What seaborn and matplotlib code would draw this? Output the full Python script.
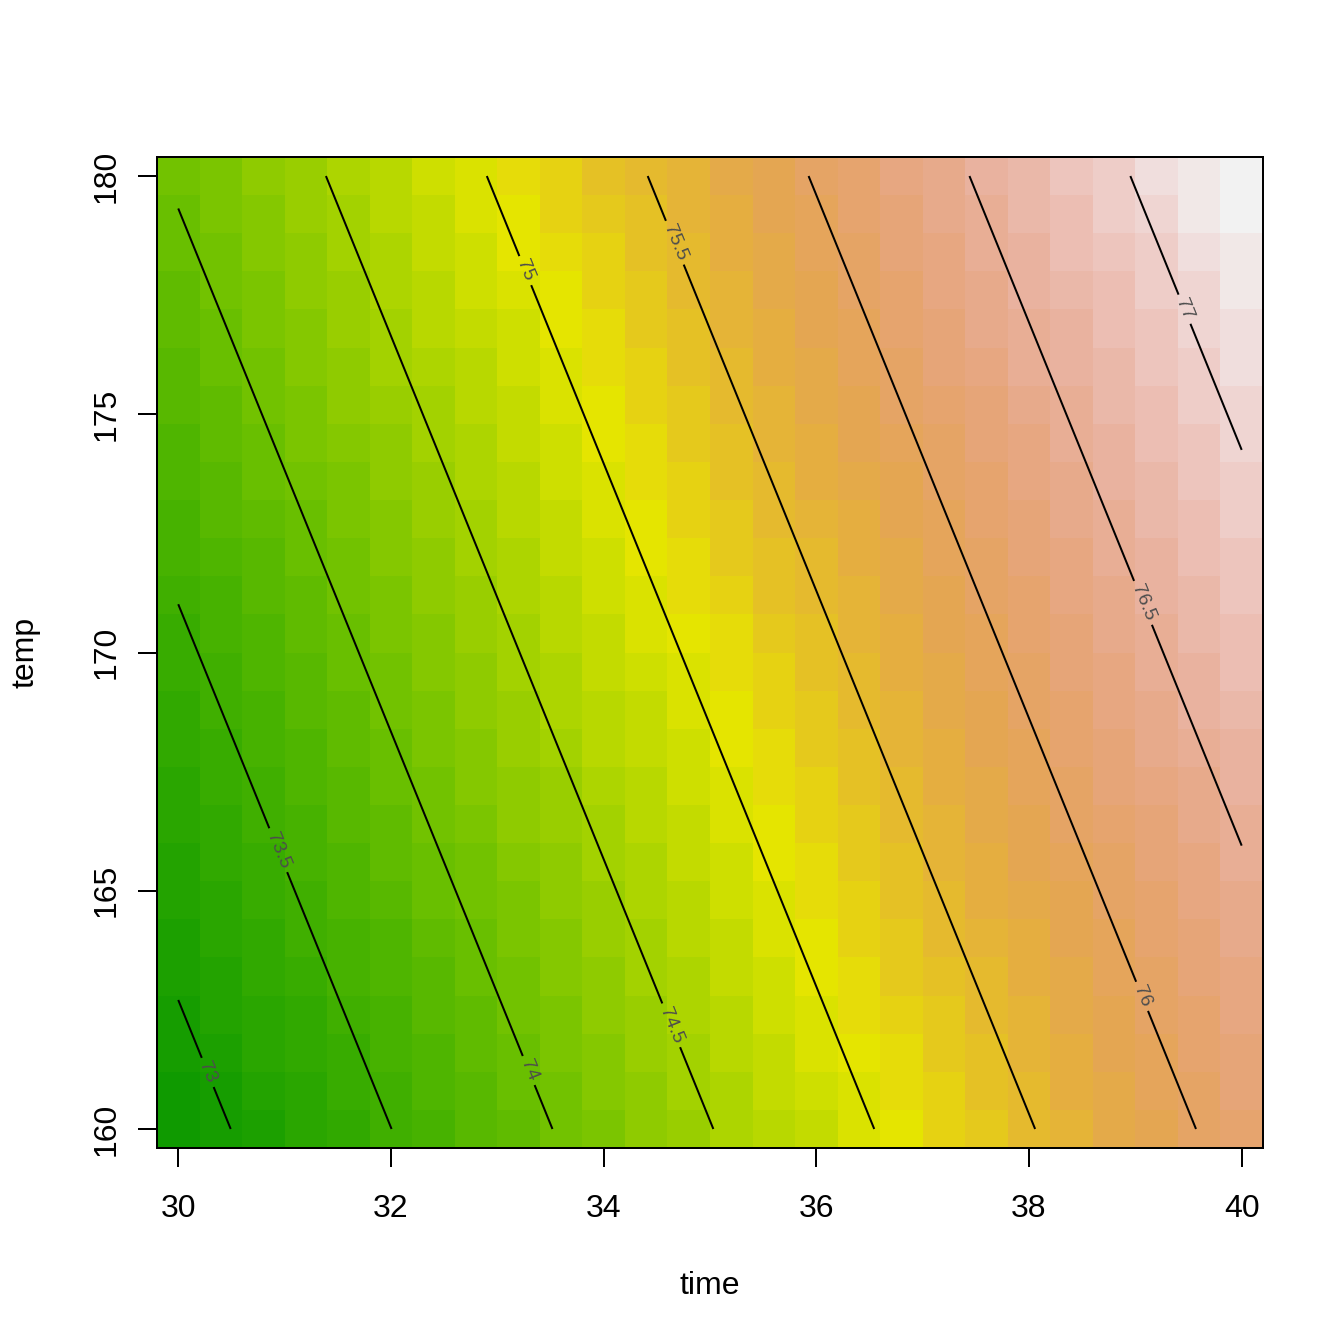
import colorsys
import numpy as np
import pandas as pd
import matplotlib
matplotlib.use("Agg")
import matplotlib.pyplot as plt
from matplotlib.colors import ListedColormap
import seaborn as sns

#grid the fitted surface is shown on
time = [30.0, 30.4, 30.8, 31.2, 31.6, 32.0, 32.4, 32.8, 33.2, 33.6, 34.0, 34.4, 34.8,
        35.2, 35.6, 36.0, 36.4, 36.8, 37.2, 37.6, 38.0, 38.4, 38.8, 39.2, 39.6, 40.0]
temp = [160.0, 160.8, 161.6, 162.4, 163.2, 164.0, 164.8, 165.6, 166.4, 167.2, 168.0,
        168.8, 169.6, 170.4, 171.2, 172.0, 172.8, 173.6, 174.4, 175.2, 176.0, 176.8,
        177.6, 178.4, 179.2, 180.0]

#first order model yield ~ time + temp, coefficients
intercept = 53.29
coef_time = 0.3305
coef_temp = 0.0602

levels = [73, 73.5, 74, 74.5, 75, 75.5, 76, 76.5, 77]
label_time = [30.27, 30.95, 33.31, 34.64, 33.28, 34.68, 39.07, 39.07, 39.49]
label_temp = [161.18, 165.86, 161.24, 162.18, 178.03, 178.61, 162.79, 171.04, 177.23]

xticks = [30, 32, 34, 36, 38, 40]
yticks = [160, 165, 170, 175, 180]


#R's terrain.colors(n), nudged a little darker/warmer to look like the reference render
def terrain_colors(n):
    k = n // 2
    m = n - k + 1
    h = np.concatenate([np.linspace(4/12, 2/12, k), np.linspace(2/12, 0, m)[1:]])
    s = np.concatenate([np.linspace(1, 1, k), np.linspace(1, 0, m)[1:]])
    v = np.concatenate([np.linspace(0.65, 0.9, k), np.linspace(0.9, 0.95, m)[1:]])
    f = np.linspace(0, 1, n)
    g = np.clip((0.5 - f) * 2, 0, 1)          # 1 at the green end, 0 at yellow
    t = np.clip((f - 0.5) * 2, 0, 1)          # 0 at yellow, 1 at white
    ramp = np.minimum(t / 0.35, 1) * np.minimum((1 - t) / 0.4, 1)
    h = np.clip(h - (g * 6 + ramp * 4) / 360, 0, 1)
    v = v * (1 - g * 0.07) * (1 - ramp * 0.025)
    return [colorsys.hsv_to_rgb(a, b, c) for a, b, c in zip(h, s, v)]


cmap = ListedColormap(terrain_colors(50))

T, P = np.meshgrid(time, temp)
Z = intercept + coef_time * T + coef_temp * P

#heatmap rows go top to bottom, so flip temp
grid = pd.DataFrame(Z[::-1], index=temp[::-1], columns=time)

#data -> heatmap cell coordinates
def to_col(t):
    return np.interp(t, time, np.arange(len(time)) + 0.5)

def to_row(p):
    return np.interp(p, temp, (len(temp) - 0.5) - np.arange(len(temp)))


plt.rcParams['font.family'] = ['Liberation Sans', 'DejaVu Sans']
fig = plt.figure(figsize=(7, 7), dpi=192)
ax = fig.add_axes([0.1168, 0.1458, 0.8229, 0.7374])

sns.heatmap(grid, cmap=cmap, vmin=Z.min(), vmax=Z.max(), cbar=False, ax=ax,
            xticklabels=False, yticklabels=False, linewidths=0, rasterized=True)

X, Y = np.meshgrid(to_col(time), to_row(temp))
cs = ax.contour(X, Y, Z, levels=levels, colors='black', linewidths=0.75)
ax.clabel(cs, inline=True, fontsize=7.2, colors='0.3', fmt='%g',
          manual=list(zip(to_col(label_time), to_row(label_temp))))

for s in ax.spines.values():
    s.set_visible(True)
    s.set_color('black')
    s.set_linewidth(0.75)

ax.set_xticks(to_col(xticks))
ax.set_xticklabels([str(t) for t in xticks])
ax.set_yticks(to_row(yticks))
ax.set_yticklabels([str(t) for t in yticks], rotation=90, va='center')
ax.tick_params(axis='both', length=7.2, width=0.75, color='black', labelsize=12,
               direction='out', bottom=True, left=True)
ax.tick_params(axis='x', pad=10)
ax.tick_params(axis='y', pad=6)

ax.set_xlabel('time', fontsize=12)
ax.set_ylabel('temp', fontsize=12)
ax.xaxis.set_label_coords(0.5, -0.139)
ax.xaxis.label.set_va('center')
ax.yaxis.set_label_coords(-0.119, 0.5)
ax.yaxis.label.set_va('center')

fig.savefig('out.png', dpi=192, facecolor='white')
